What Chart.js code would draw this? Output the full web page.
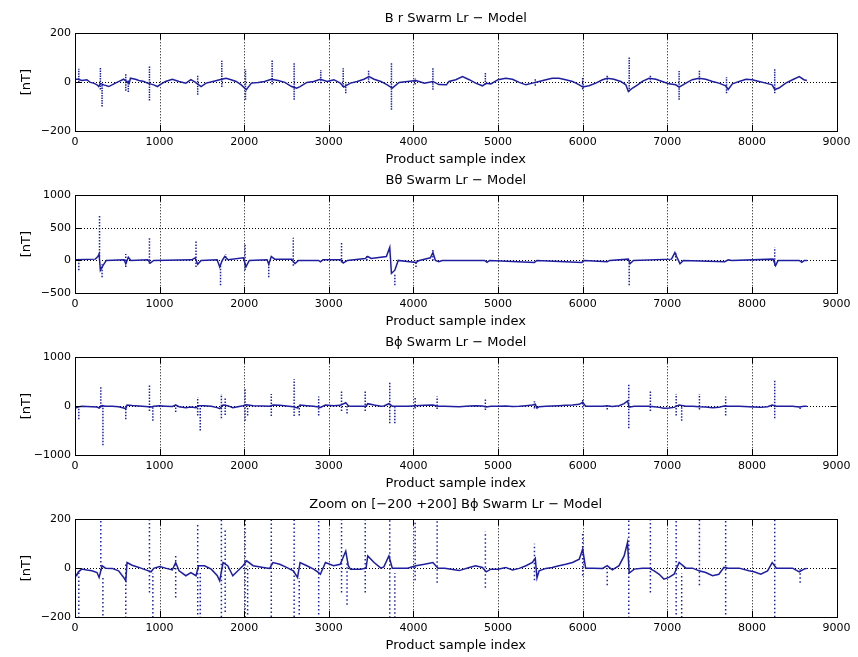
<!DOCTYPE html>
<html lang="en">
<head>
<meta charset="utf-8">
<title>Swarm Lr - Model</title>
<script src="https://cdn.jsdelivr.net/npm/chart.js@4.4.0/dist/chart.umd.min.js"></script>
<style>
  body { margin: 0; background: #fff; width: 858px; height: 657px; position: relative; overflow: hidden; }
  canvas { position: absolute; left: 0; }
</style>
</head>
<body>
<canvas id="br" width="858" height="170" style="top:0px"></canvas>
<canvas id="btheta" width="858" height="170" style="top:162px"></canvas>
<canvas id="bphi" width="858" height="170" style="top:324px"></canvas>
<canvas id="bphiZoom" width="858" height="170" style="top:486px"></canvas>
<script>
// B r residual: slow baseline and the sharp excursions on top of it
const brIndex = [0,40,80,140,180,220,260,280,300,340,400,460,520,575,600,640,655,715,755,815,
  855,900,930,975,1000,1070,1150,1230,1310,1370,1420,1490,1550,1630,1710,1785,1845,1905,1965,2025,
  2085,2165,2240,2320,2400,2480,2560,2620,2660,2740,2820,2900,2980,3060,3135,3175,3255,3335,3415,3475,
  3535,3615,3690,3750,3830,3930,4030,4130,4230,4300,4390,4420,4500,4580,4660,4735,4815,4860,4915,5000,
  5090,5170,5250,5330,5405,5485,5565,5640,5720,5800,5880,5960,6000,6075,6155,6235,6290,6370,6450,6510,
  6540,6590,6650,6705,6785,6865,6940,7020,7100,7140,7220,7295,7375,7455,7535,7610,7690,7720,7770,7850,
  7930,8005,8085,8165,8240,8270,8320,8400,8480,8560,8615,8650];
const brValue = [12,12,7,10,-1,-4,-11,-18,-5,-11,-18,-7,3,12,5,-5,16,12,7,3,
  -4,-8,-11,-18,-11,3,12,3,-4,10,0,-18,-4,3,10,16,10,3,-11,-31,
  -4,-1,3,12,7,-1,-18,-25,-18,-1,3,12,3,10,-4,-20,-4,3,12,23,
  12,3,-11,-24,-1,3,7,-4,3,-10,-11,3,10,23,10,-4,-15,-5,-7,10,
  16,12,-1,-11,-4,3,10,16,16,10,3,-11,-20,-15,-4,10,16,12,3,-11,
  -38,-24,-11,3,16,12,3,-7,-11,-20,-4,10,16,12,3,-4,-15,-30,-7,3,
  12,10,3,-4,-11,-30,-24,-4,10,23,10,7];
const brSpikeIndex = [45,300,320,600,630,880,1450,1735,2015,2330,2590,2905,3170,3200,3470,3740,4020,4230,4850,5440,6000,6290,6550,6800,7140,7380,7700,8270];
const brSpikeLow   = [0,-30,-100,-35,-40,-75,-52,-20,-72,-10,-72,-5,-20,-45,0,-113,-10,-31,-10,-15,-30,0,-38,0,-72,0,-45,-45];
const brSpikeHigh  = [55,60,-10,35,10,65,30,88,53,92,78,50,57,0,48,78,15,61,37,15,20,30,105,30,46,50,20,57];

// B theta residual
const btIndex = [0,240,270,285,300,330,370,580,600,630,660,860,890,930,1380,1420,1450,1490,1680,1710,
  1740,1770,1810,1990,2020,2060,2270,2290,2320,2360,2560,2600,2640,2880,2900,2930,3140,3170,3220,3430,
  3460,3500,3680,3720,3740,3780,3820,4030,4070,4200,4230,4260,4300,4340,4840,4870,4900,5430,5460,5990,
  6020,6290,6320,6540,6560,6600,7050,7090,7110,7150,7190,7680,7720,7760,8250,8280,8310,8560,8590,8620,8650];
const btValue = [10,20,60,100,-150,-80,0,10,-50,50,0,10,-40,0,10,40,-60,0,10,-100,
  0,60,10,40,-100,0,10,-60,60,20,20,-50,0,0,-20,10,10,-40,0,30,
  60,30,60,200,-200,-150,0,-30,0,40,120,0,-20,0,0,-30,0,-30,0,-30,
  0,-20,0,20,-50,0,20,120,60,-50,0,-20,10,0,20,-80,0,0,-30,0,0];
const btSpikeIndex = [45,290,320,600,880,1430,1720,1780,2010,2290,2580,3150,3450,3780,4030,4230,6550,7100,8270];
const btSpikeLow   = [-150,60,-260,-100,-50,-100,-380,0,-150,-260,-80,-30,0,-380,-100,0,-380,0,-80];
const btSpikeHigh  = [0,690,-60,100,350,300,-50,100,250,-20,350,290,80,-200,0,160,0,130,200];

// B phi residual (shown full range and zoomed to +-200)
const bpIndex = [0,20,40,80,140,200,260,285,320,360,440,515,575,600,615,675,755,835,900,930,
  1000,1070,1150,1190,1230,1310,1370,1430,1460,1530,1610,1680,1710,1750,1805,1865,1925,1985,2030,2105,
  2225,2300,2340,2420,2500,2580,2630,2660,2740,2820,2880,2900,2960,3055,3135,3200,3230,3255,3375,3440,
  3460,3535,3615,3650,3710,3750,3930,4030,4130,4230,4290,4370,4540,4660,4735,4815,4860,4915,5000,5090,
  5170,5250,5330,5405,5440,5460,5485,5565,5640,5720,5800,5880,5960,6000,6035,6115,6235,6290,6350,6430,
  6490,6530,6550,6610,6705,6785,6845,6905,6960,7020,7080,7140,7220,7300,7375,7455,7535,7610,7670,7720,
  7850,7965,8025,8105,8185,8240,8290,8320,8480,8560,8615,8650];
const bpValue = [-20,-30,-15,-4,-8,-11,-18,-38,10,0,-1,-11,-38,-52,23,12,3,-7,-15,-1,
  7,0,-7,23,-11,-31,-18,-31,10,10,-4,-30,-52,23,10,-31,-11,10,30,10,
  3,-1,23,16,3,-11,-38,23,10,-4,-18,-25,23,10,16,70,10,-4,-4,0,
  50,23,0,5,50,0,0,10,16,23,0,0,-10,3,10,3,-15,-4,-4,3,
  -7,-1,10,23,40,-40,-11,-1,3,10,16,23,37,78,0,0,-1,10,-7,10,
  50,105,-20,-4,0,0,-11,-25,-45,-38,-25,23,0,0,-11,-18,-31,-25,3,0,
  0,-11,-15,-25,-11,23,0,0,0,-15,-4,-1];
const bpSpikeIndex = [45,305,330,600,880,920,1190,1450,1480,1730,1775,2010,2040,2320,2590,2650,2880,3150,3215,3430,
  3720,3780,4020,4280,4850,5430,6000,6290,6545,6800,7105,7170,7380,7690,8270,8570];
const bpSpikeLow   = [-270,-10,-800,-270,-100,-300,-120,-190,-500,-250,-180,-300,-190,-200,-200,-190,-190,-100,-150,-100,
  -350,-350,-50,-60,-80,-50,-30,-70,-450,-100,-190,-300,-70,-190,-250,-60];
const bpSpikeHigh  = [-10,400,-30,20,450,-20,50,180,-20,250,160,350,10,250,550,-40,200,300,20,300,
  500,-20,190,200,150,100,150,0,450,300,250,-20,250,200,550,0];

const FONT = 'DejaVu Sans';
Chart.defaults.color = '#000';
Chart.defaults.font.family = FONT;

// boxed axes with dotted grid and inward ticks
const boxAxes = {
  id: 'boxAxes',
  beforeDatasetsDraw(chart) {
    const { ctx, chartArea: a, scales: { x, y } } = chart;
    ctx.save();
    ctx.strokeStyle = '#000';
    ctx.lineWidth = 1;
    ctx.setLineDash([1, 2]);
    ctx.beginPath();
    x.ticks.forEach(t => {
      const px = Math.round(x.getPixelForValue(t.value)) + 0.5;
      if (px > a.left + 1 && px < a.right - 1) { ctx.moveTo(px, a.top); ctx.lineTo(px, a.bottom); }
    });
    y.ticks.forEach(t => {
      const py = Math.round(y.getPixelForValue(t.value)) + 0.5;
      if (py > a.top + 1 && py < a.bottom - 1) { ctx.moveTo(a.left, py); ctx.lineTo(a.right, py); }
    });
    ctx.stroke();
    ctx.restore();
  },
  afterDatasetsDraw(chart) {
    const { ctx, chartArea: a, scales: { x, y } } = chart;
    const len = 6;
    ctx.save();
    ctx.strokeStyle = '#000';
    ctx.lineWidth = 1;
    ctx.beginPath();
    x.ticks.forEach(t => {
      const px = Math.round(x.getPixelForValue(t.value)) + 0.5;
      ctx.moveTo(px, a.bottom); ctx.lineTo(px, a.bottom - len);
      ctx.moveTo(px, a.top); ctx.lineTo(px, a.top + len);
    });
    y.ticks.forEach(t => {
      const py = Math.round(y.getPixelForValue(t.value)) + 0.5;
      ctx.moveTo(a.left, py); ctx.lineTo(a.left + len, py);
      ctx.moveTo(a.right, py); ctx.lineTo(a.right - len, py);
    });
    ctx.stroke();
    ctx.strokeRect(Math.round(a.left) + 0.5, Math.round(a.top) + 0.5,
      Math.round(a.right - a.left), Math.round(a.bottom - a.top));
    ctx.restore();
  }
};

function spikePoints(idx, lo, hi) {
  const pts = [];
  idx.forEach((x, i) => { pts.push({ x, y: lo[i] }, { x, y: hi[i] }, { x, y: null }); });
  return pts;
}

const minusSign = v => String(v).replace('-', '\u2212');

function makePanel(id, title, index, value, sIdx, sLo, sHi, yMin, yMax, yStep, dash) {
  new Chart(document.getElementById(id), {
    type: 'line',
    data: {
      datasets: [
        {
          data: index.map((x, i) => ({ x, y: value[i] })),
          borderColor: '#1e1ea0',
          borderWidth: 1.5,
          pointRadius: 0,
          tension: 0
        },
        {
          data: spikePoints(sIdx, sLo, sHi),
          borderColor: '#1a20a8',
          borderWidth: 1.5,
          borderDash: dash,
          pointRadius: 0,
          spanGaps: false
        }
      ]
    },
    options: {
      responsive: false,
      animation: false,
      events: [],
      layout: { padding: { left: 0, right: 21.5, top: 0, bottom: 0 } },
      plugins: {
        legend: { display: false },
        tooltip: { enabled: false },
        title: {
          display: true,
          text: title,
          fullSize: false,
          color: '#000',
          font: { family: FONT, size: 13, weight: 'normal' },
          padding: { top: 11, bottom: 6.7 }
        }
      },
      scales: {
        x: {
          type: 'linear',
          min: 0, max: 9000,
          grid: { display: false, drawTicks: false },
          border: { display: false },
          ticks: { stepSize: 1000, padding: 4.4, maxRotation: 0, font: { size: 11 }, autoSkip: false,
            callback: v => String(v) },
          title: { display: true, text: 'Product sample index', font: { size: 13 }, padding: { top: 0, bottom: 2.2 } },
          afterFit: s => { s.height = 39; }
        },
        y: {
          min: yMin, max: yMax,
          grid: { display: false, drawTicks: false },
          border: { display: false },
          ticks: { stepSize: yStep, padding: 4, font: { size: 11 }, callback: minusSign },
          title: { display: true, text: '[nT]', font: { size: 13 }, padding: { top: 19, bottom: 0 } },
          afterFit: s => { s.width = 75; }
        }
      }
    },
    plugins: [boxAxes]
  });
}

makePanel('br', 'B r Swarm Lr \u2212 Model', brIndex, brValue,
  brSpikeIndex, brSpikeLow, brSpikeHigh, -200, 200, 200, [1.5, 1]);
makePanel('btheta', 'B\u03b8 Swarm Lr \u2212 Model', btIndex, btValue,
  btSpikeIndex, btSpikeLow, btSpikeHigh, -500, 1000, 500, [1.5, 1.5]);
makePanel('bphi', 'B\u03d5 Swarm Lr \u2212 Model', bpIndex, bpValue,
  bpSpikeIndex, bpSpikeLow, bpSpikeHigh, -1000, 1000, 1000, [1.5, 1.5]);
makePanel('bphiZoom', 'Zoom on [\u2212200 +200] B\u03d5 Swarm Lr \u2212 Model', bpIndex, bpValue,
  bpSpikeIndex, bpSpikeLow, bpSpikeHigh, -200, 200, 200, [1.5, 2.5]);
</script>
</body>
</html>
